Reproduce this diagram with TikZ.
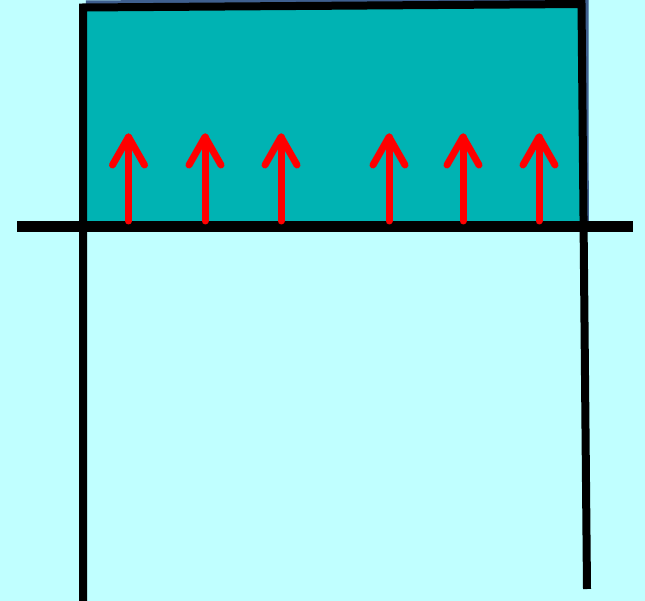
\documentclass[tikz,border=0pt]{standalone}
\usepackage{xcolor}
\definecolor{fond}{HTML}{C0FFFF}
\definecolor{eau}{HTML}{00B3B3}
\definecolor{ombre}{HTML}{3F5F8F}
\usepackage{tikz}

\begin{document}
\begin{tikzpicture}[x=1pt, y=-1pt,
    paroi/.style={draw=black, line width=8pt},
    poussee/.style={draw=red, line width=7pt, line cap=round, line join=round}]
            % fond et cadre
            \fill[fond] (0,0) rectangle (645,601);
            \useasboundingbox (0,0) rectangle (645,601);

            \coordinate (hg) at (83,7.5);
            \coordinate (hd) at (581.5,4);
            \coordinate (bg) at (83,601);
            \coordinate (bd) at (587,589);
            \coordinate (sg) at (17,226.5);
            \coordinate (sd) at (633,226.5);

            % bac
            \fill[eau] (hg) -- (hd) -- (581.8,226.5) -- (83,226.5) -- cycle;
            \draw[ombre, line width=8pt] ([shift={(3,-3)}]hg) -- ([shift={(3,-3)}]hd) -- ([shift={(3,-3)}]581.8,226.5);
            \draw[paroi] (bg) -- ([yshift=-4]hg) -- (hg) -- (hd) -- (bd);
            \draw[draw=black, line width=11pt] (sg) -- (sd);

            % poussee
            \foreach \x in {128.5,205,281,389,463,539} {
                \draw[poussee] (\x,221) -- (\x,137);
                \draw[poussee] (\x-16,165) -- (\x,137) -- (\x+16,165);
            }
        \end{tikzpicture}
\end{document}
